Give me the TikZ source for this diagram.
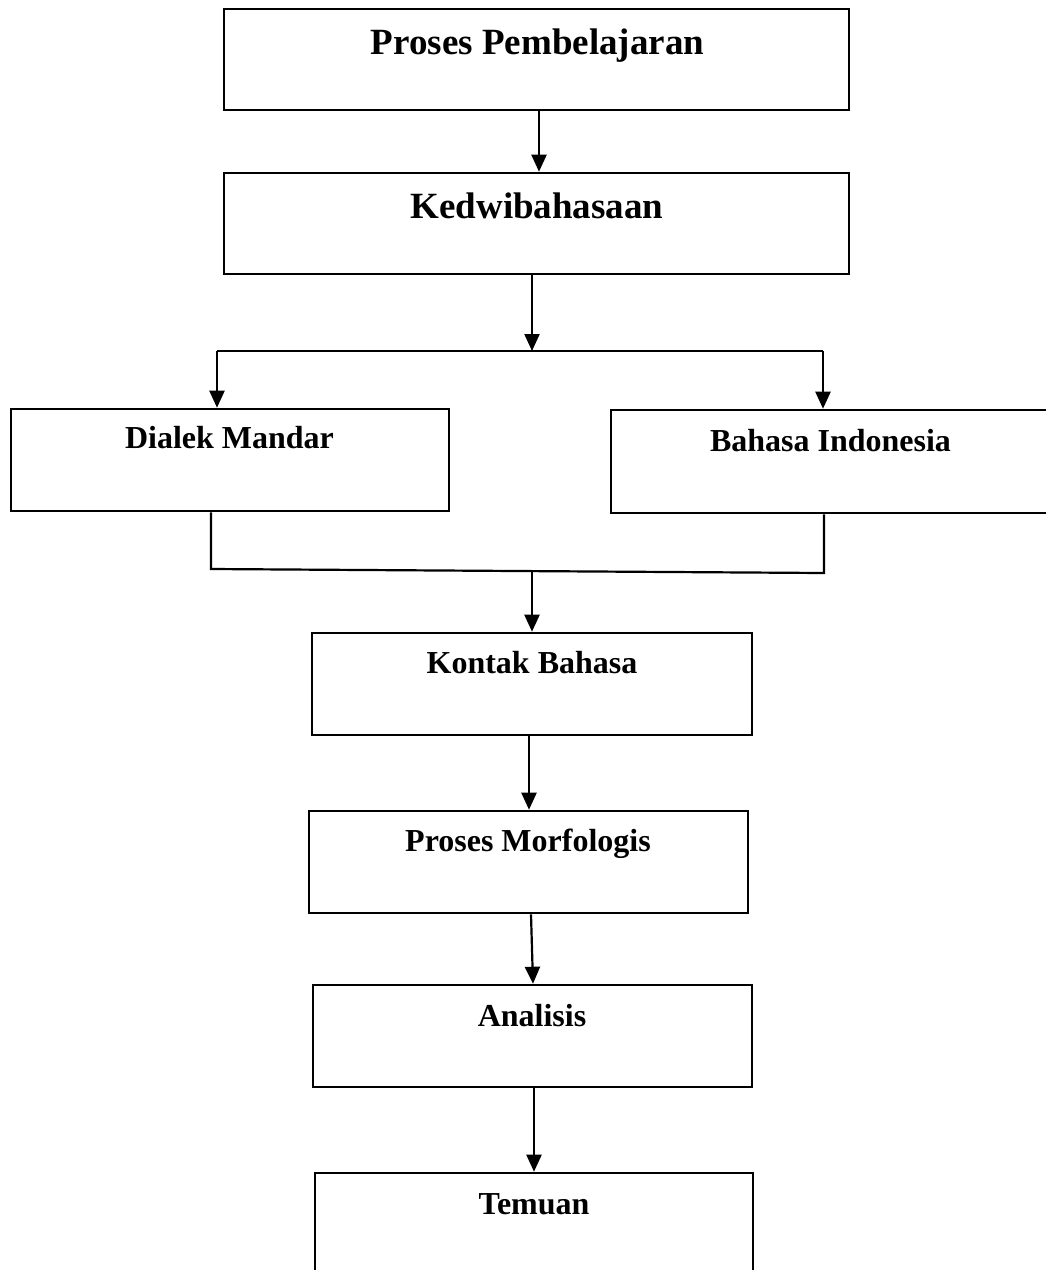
\documentclass[tikz,border=0pt]{standalone}
\usepackage{fontspec}
\setmainfont{Liberation Serif}
\usetikzlibrary{arrows.meta,calc}
\begin{document}
\begin{tikzpicture}[x=1pt,y=-1pt,
  box/.style={draw,line width=2.6pt,rectangle,inner sep=0pt},
  big/.style={anchor=base,inner sep=0pt,font=\fontsize{37}{44}\selectfont\bfseries},
  small/.style={anchor=base,inner sep=0pt,font=\fontsize{32}{38}\selectfont\bfseries},
  ln/.style={line width=2.2pt},
  arr/.style={line width=2.2pt,-{Triangle[length=17pt,width=15pt]}}]
\useasboundingbox (0,0) rectangle (1046,1270);
\clip (0,0) rectangle (1046,1270);
% boxes
\node[box,minimum width=625pt,minimum height=101pt] (b1) at (536.5,59.5) {};
\node[box,minimum width=625pt,minimum height=101pt] (b2) at (536.5,223.5) {};
\node[box,minimum width=438pt,minimum height=102pt] (b3) at (230,460) {};
\node[box,minimum width=449pt,minimum height=103pt] (b4) at (835.5,461.5) {};
\node[box,minimum width=440pt,minimum height=102pt] (b5) at (532,684) {};
\node[box,minimum width=439pt,minimum height=102pt] (b6) at (528.5,862) {};
\node[box,minimum width=439pt,minimum height=102pt] (b7) at (532.5,1036) {};
\node[box,minimum width=438pt,minimum height=117pt] (b8) at (534,1231.5) {};
% texts
\node[big] (t1) at (537.5,54) {Proses Pembelajaran};
\node[big] (t2) at (537,218) {Kedwibahasaan};
\node[small] (t3) at (229.5,448) {Dialek Mandar};
\node[small] (t4) at (830.5,451) {Bahasa Indonesia};
\node[small] (t5) at (532,673) {Kontak Bahasa};
\node[small] (t6) at (528,851) {Proses Morfologis};
\node[small] (t7) at (532,1026) {Analisis};
\node[small] (t8) at (534,1214) {Temuan};
% connectors
\coordinate (s) at (532,351);
\coordinate (sl) at (217,351);
\coordinate (sr) at (823,351);
\coordinate (ml) at (211,569);
\coordinate (mr) at (824,573);
\coordinate (mc) at (532,571);
\draw[arr] ([xshift=2.5pt]b1.south) -- ([xshift=2.5pt]b2.north);
\draw[arr] ([xshift=-4.5pt]b2.south) -- (s);
\draw[ln] (sl) -- (sr);
\draw[arr] (sl) -- (sl |- b3.north);
\draw[arr] (sr) -- (sr |- b4.north);
\draw[ln] (b3.south -| ml) -- (ml) -- (mr) -- (mr |- b4.south);
\draw[arr] (mc) -- (mc |- b5.north);
\draw[arr] ([xshift=-3pt]b5.south) -- ([xshift=0.5pt]b6.north);
\draw[arr] ([xshift=2.5pt]b6.south) -- ([xshift=0.5pt]b7.north);
\draw[arr] ([xshift=1.5pt]b7.south) -- (b8.north);
\end{tikzpicture}
\end{document}
